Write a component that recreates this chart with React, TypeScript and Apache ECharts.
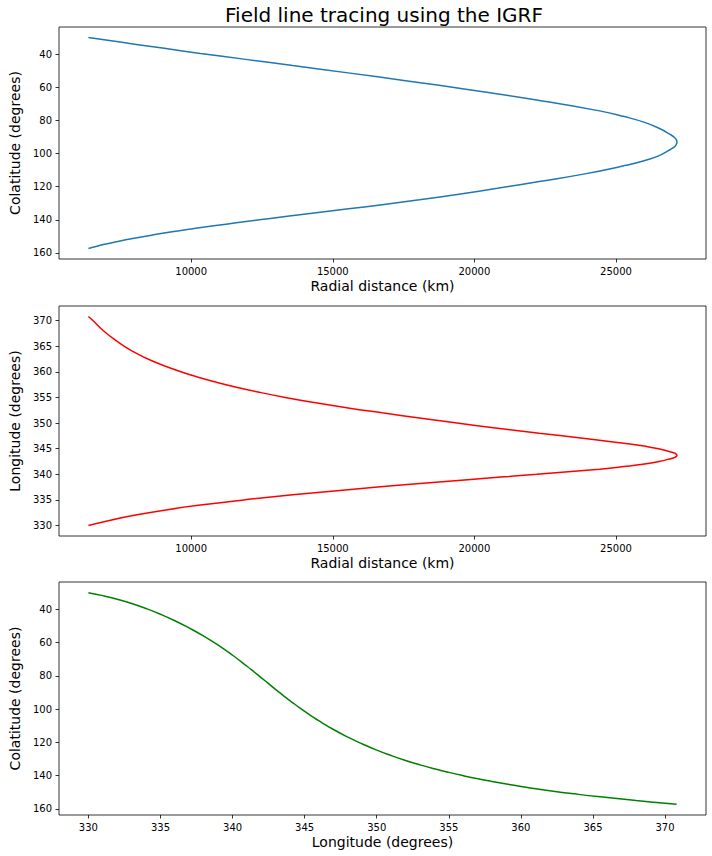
import React, { useEffect, useRef } from "react";
import * as echarts from "echarts";

// field line samples (one trace, three projections)
const lonDeg = [330, 331, 332, 333, 334, 335, 336, 337, 338, 339, 340, 341, 341.5, 342, 342.5, 343, 343.29, 343.5, 343.7, 344, 344.16, 344.5, 345, 345.5, 346, 347, 348, 349, 350, 351, 352, 353, 354, 355, 356, 357, 358, 359, 360, 362, 364, 366, 368, 370, 370.8];
const colatDeg = [30, 31.8, 33.95, 36.5, 39.55, 43.0, 46.9, 51.3, 56.15, 61.6, 67.65, 74.25, 77.7, 81.2, 84.75, 88.3, 90.3, 91.75, 93.1, 95.1, 96.1, 98.3, 101.4, 104.35, 107.15, 112.3, 116.9, 121.0, 124.7, 127.95, 130.9, 133.55, 135.93, 138.08, 140.04, 141.84, 143.5, 145.05, 146.5, 149.1, 151.3, 153.2, 155.0, 156.6, 157.3];
const radialKm = [6371, 7113, 7998, 9050, 10330, 11860, 13585, 15540, 17630, 19875, 22200, 24420, 25290, 26010, 26520, 26895, 27065, 27133, 27153, 27108, 27052, 26845, 26504, 25992, 25345, 23900, 22290, 20814, 19389, 18056, 16743, 15484, 14342, 13321, 12410, 11596, 10869, 10218, 9638, 8671, 7934, 7374, 6900, 6530, 6371];

const radialTicks = [10000, 15000, 20000, 25000];
const colatTicks = [40, 60, 80, 100, 120, 140, 160];
const lonTicks = [330, 335, 340, 345, 350, 355, 360, 365, 370];

const FONT = "DejaVu Sans";

const valueAxis = (gridIndex, name, min, max, ticks, extra = {}) => ({
    type: "value",
    gridIndex,
    name,
    nameLocation: "middle",
    nameTextStyle: { fontFamily: FONT, fontSize: 14, color: "#000" },
    min,
    max,
    axisLine: { show: false },
    axisTick: { show: true, inside: false, length: 3.5, customValues: ticks, lineStyle: { color: "#000", width: 0.8 } },
    axisLabel: {
        show: true,
        margin: 7,
        customValues: ticks,
        formatter: (v) => String(v),
        fontFamily: FONT,
        fontSize: 10,
        color: "#000",
    },
    splitLine: { show: false },
    ...extra,
});

const App = () => {
    const chartRef = useRef(null);

    useEffect(() => {
        if (!chartRef.current) return;
        const chart = echarts.init(chartRef.current, null, { renderer: "svg" });

        const gridBase = { left: 52, width: 654, show: true, borderColor: "#000", borderWidth: 0.8, backgroundColor: "#fff" };
        const pairs = (a, b) => a.map((v, i) => [v, b[i]]);

        const options = {
            animation: false,
            backgroundColor: "#fff",
            title: {
                text: "Field line tracing using the IGRF",
                left: 379,
                top: 0,
                textAlign: "center",
                textStyle: { fontFamily: FONT, fontSize: 20, fontWeight: "normal", color: "#000" },
            },
            grid: [
                { ...gridBase, top: 27, height: 232 },
                { ...gridBase, top: 306, height: 230 },
                { ...gridBase, top: 582, height: 233 },
            ],
            xAxis: [
                valueAxis(0, "Radial distance (km)", 5333, 28178, radialTicks, { nameGap: 20 }),
                valueAxis(1, "Radial distance (km)", 5333, 28178, radialTicks, { nameGap: 20 }),
                valueAxis(2, "Longitude (degrees)", 327.96, 372.84, lonTicks, { nameGap: 20 }),
            ],
            yAxis: [
                valueAxis(0, "Colatitude (degrees)", 23.6, 163.7, colatTicks, { inverse: true, nameGap: 37 }),
                valueAxis(1, "Longitude (degrees)", 327.96, 372.84, lonTicks, { nameGap: 37 }),
                valueAxis(2, "Colatitude (degrees)", 23.6, 163.7, colatTicks, { inverse: true, nameGap: 37 }),
            ],
            series: [
                {
                    type: "line",
                    xAxisIndex: 0,
                    yAxisIndex: 0,
                    data: pairs(radialKm, colatDeg),
                    showSymbol: false,
                    smooth: 0.5,
                    lineStyle: { color: "#1f77b4", width: 1.5 },
                },
                {
                    type: "line",
                    xAxisIndex: 1,
                    yAxisIndex: 1,
                    data: pairs(radialKm, lonDeg),
                    showSymbol: false,
                    smooth: 0.5,
                    lineStyle: { color: "#ff0000", width: 1.5 },
                },
                {
                    type: "line",
                    xAxisIndex: 2,
                    yAxisIndex: 2,
                    data: pairs(lonDeg, colatDeg),
                    showSymbol: false,
                    smooth: 0.5,
                    lineStyle: { color: "#008000", width: 1.5 },
                },
            ],
        };

        chart.setOption(options);
        return () => chart.dispose();
    }, []);

    return <div ref={chartRef} style={{ position: "fixed", left: 0, top: 0, width: "712px", height: "856px" }} />;
};

export default App;
